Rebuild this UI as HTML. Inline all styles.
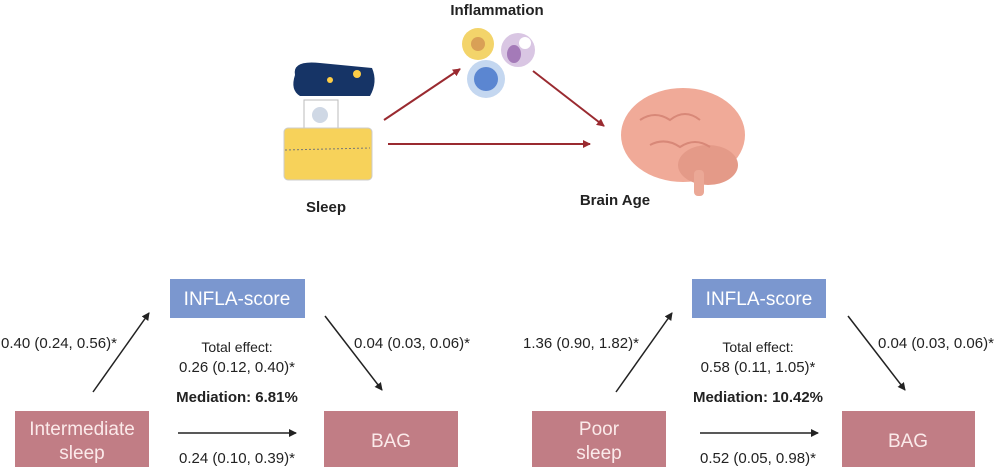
<!DOCTYPE html>
<html><head><meta charset="utf-8"><style>
body{margin:0;background:#fff;width:1000px;height:467px;overflow:hidden;font-family:"Liberation Sans",Arial,sans-serif}
</style></head><body>
<svg width="1000" height="467" viewBox="0 0 1000 467" xmlns="http://www.w3.org/2000/svg" font-family="Liberation Sans, Arial, sans-serif">
<defs>
<marker id="r" markerWidth="8" markerHeight="8" refX="7" refY="4" orient="auto" markerUnits="userSpaceOnUse"><path d="M0,0 L8,4 L0,8 z" fill="#9a2a30"/></marker>
<marker id="k" markerWidth="8" markerHeight="8" refX="7" refY="4" orient="auto" markerUnits="userSpaceOnUse"><path d="M0,0 L8,4 L0,8 z" fill="#222"/></marker>
</defs>
<text x="497" y="15" font-size="15" font-weight="bold" text-anchor="middle" fill="#222">Inflammation</text>
<circle cx="478" cy="44" r="16" fill="#f3d46a"/><circle cx="478" cy="44" r="7" fill="#d9a056"/>
<circle cx="518" cy="50" r="17" fill="#d9c6e3"/><ellipse cx="514" cy="54" rx="7" ry="9" fill="#a47ab8"/><circle cx="525" cy="43" r="6" fill="#fff"/>
<circle cx="486" cy="79" r="19" fill="#c4d7f0"/><circle cx="486" cy="79" r="12" fill="#5b86d1"/>
<path d="M295,75 Q292,60 320,63 L372,68 Q378,82 370,96 L300,96 Q290,90 295,75z" fill="#163466"/>
<circle cx="330" cy="80" r="3" fill="#ffce46"/><circle cx="357" cy="74" r="4" fill="#ffce46"/>
<rect x="304" y="100" width="34" height="28" fill="#fff" stroke="#bbb"/>
<circle cx="320" cy="115" r="8" fill="#cfd8e5"/>
<rect x="284" y="128" width="88" height="52" rx="4" fill="#f7d25a" stroke="#ccc"/>
<path d="M285,150 L370,148" stroke="#777" stroke-dasharray="2,2"/>
<text x="326" y="212" font-size="15" font-weight="bold" text-anchor="middle" fill="#222">Sleep</text>
<ellipse cx="683" cy="135" rx="62" ry="47" fill="#f0aa98"/>
<ellipse cx="708" cy="165" rx="30" ry="20" fill="#e49a88"/>
<rect x="694" y="170" width="10" height="26" rx="4" fill="#eba896"/>
<path d="M640,120 q15,-10 30,0 q15,-12 30,0 M650,145 q15,-8 30,2 q15,-10 30,0" stroke="#d88878" fill="none" stroke-width="2"/>
<text x="615" y="205" font-size="15" font-weight="bold" text-anchor="middle" fill="#222">Brain Age</text>
<line x1="384" y1="120" x2="460" y2="69" stroke="#9a2a30" stroke-width="2" marker-end="url(#r)"/>
<line x1="533" y1="71" x2="604" y2="126" stroke="#9a2a30" stroke-width="2" marker-end="url(#r)"/>
<line x1="388" y1="144" x2="590" y2="144" stroke="#9a2a30" stroke-width="2" marker-end="url(#r)"/>
<g font-size="15" fill="#222">
<rect x="170" y="279" width="135" height="39" fill="#7b97cf"/>
<text x="237" y="305" font-size="19" fill="#fff" text-anchor="middle">INFLA-score</text>
<rect x="15" y="411" width="134" height="56" fill="#c17d85"/>
<text x="82" y="435" font-size="19" fill="#fbeaea" text-anchor="middle">Intermediate</text>
<text x="82" y="459" font-size="19" fill="#fbeaea" text-anchor="middle">sleep</text>
<rect x="324" y="411" width="134" height="56" fill="#c17d85"/>
<text x="391" y="447" font-size="19" fill="#fbeaea" text-anchor="middle">BAG</text>
<line x1="93" y1="392" x2="149" y2="313" stroke="#222" stroke-width="1.5" marker-end="url(#k)"/>
<line x1="325" y1="316" x2="382" y2="390" stroke="#222" stroke-width="1.5" marker-end="url(#k)"/>
<line x1="178" y1="433" x2="296" y2="433" stroke="#222" stroke-width="1.5" marker-end="url(#k)"/>
<text x="1" y="348">0.40 (0.24, 0.56)*</text>
<text x="354" y="348">0.04 (0.03, 0.06)*</text>
<text x="237" y="352" font-size="14" text-anchor="middle">Total effect:</text>
<text x="237" y="372" text-anchor="middle">0.26 (0.12, 0.40)*</text>
<text x="237" y="402" font-weight="bold" text-anchor="middle">Mediation: 6.81%</text>
<text x="237" y="463" text-anchor="middle">0.24 (0.10, 0.39)*</text>
</g>
<g font-size="15" fill="#222">
<rect x="692" y="279" width="134" height="39" fill="#7b97cf"/>
<text x="759" y="305" font-size="19" fill="#fff" text-anchor="middle">INFLA-score</text>
<rect x="532" y="411" width="134" height="56" fill="#c17d85"/>
<text x="599" y="435" font-size="19" fill="#fbeaea" text-anchor="middle">Poor</text>
<text x="599" y="459" font-size="19" fill="#fbeaea" text-anchor="middle">sleep</text>
<rect x="842" y="411" width="133" height="56" fill="#c17d85"/>
<text x="908" y="447" font-size="19" fill="#fbeaea" text-anchor="middle">BAG</text>
<line x1="616" y1="392" x2="672" y2="313" stroke="#222" stroke-width="1.5" marker-end="url(#k)"/>
<line x1="848" y1="316" x2="905" y2="390" stroke="#222" stroke-width="1.5" marker-end="url(#k)"/>
<line x1="700" y1="433" x2="818" y2="433" stroke="#222" stroke-width="1.5" marker-end="url(#k)"/>
<text x="523" y="348">1.36 (0.90, 1.82)*</text>
<text x="878" y="348">0.04 (0.03, 0.06)*</text>
<text x="758" y="352" font-size="14" text-anchor="middle">Total effect:</text>
<text x="758" y="372" text-anchor="middle">0.58 (0.11, 1.05)*</text>
<text x="758" y="402" font-weight="bold" text-anchor="middle">Mediation: 10.42%</text>
<text x="758" y="463" text-anchor="middle">0.52 (0.05, 0.98)*</text>
</g>
</svg>
</body></html>
